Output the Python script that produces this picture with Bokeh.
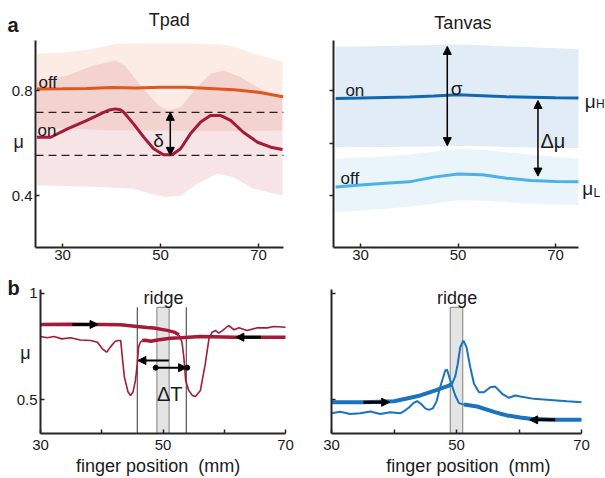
from bokeh.plotting import figure
from bokeh.layouts import row, column
from bokeh.models import Label, Arrow, NormalHead, FixedTicker
from bokeh.embed import file_html
from bokeh.resources import INLINE

# ---------------- data ----------------
# panel a, Tpad
tpad_off_x = [24.8, 30, 35, 40, 45, 50, 55, 60, 65, 70, 75]
tpad_off = [0.806, 0.807, 0.808, 0.811, 0.810, 0.812, 0.812, 0.808, 0.803, 0.793, 0.776]
tpad_on_x = [24.8, 27.6, 31.0, 35.0, 38.4, 39.6, 40.8, 41.8, 42.5, 44.5, 46.6, 48.6, 50.6, 52.4,
             54.1, 56.1, 58.2, 60.2, 62.2, 64.3, 66.9, 69.8, 72.5, 74.9]
tpad_on = [0.622, 0.622, 0.654, 0.686, 0.717, 0.726, 0.730, 0.727, 0.717, 0.673, 0.622, 0.578,
           0.555, 0.555, 0.578, 0.635, 0.680, 0.705, 0.705, 0.686, 0.641, 0.603, 0.584, 0.575]
tpad_offband_x = [24.8, 30, 35, 37.8, 40.9, 45, 51.4, 55, 58.2, 62, 65, 69, 74.9]
tpad_offband_hi = [0.940, 0.945, 0.955, 0.965, 0.978, 0.980, 0.980, 0.980, 0.978, 0.975, 0.968, 0.940, 0.910]
tpad_offband_lo = [0.658, 0.655, 0.652, 0.650, 0.648, 0.648, 0.648, 0.646, 0.645, 0.645, 0.645, 0.646, 0.648]
tpad_onband_top_x = [24.8, 31.0, 36.3, 40.8, 42.7, 46.2, 49.6, 51.6, 54.1, 57.5, 60.2, 62.9, 66.3, 70.4, 74.9]
tpad_onband_top = [0.832, 0.857, 0.895, 0.914, 0.895, 0.813, 0.743, 0.724, 0.737, 0.813, 0.864, 0.876,
                   0.851, 0.806, 0.775]
tpad_onband_bot_x = [24.8, 37.8, 44.5, 47.9, 51.0, 54.1, 57.5, 61.5, 64.9, 69.0, 74.9]
tpad_onband_bot = [0.439, 0.432, 0.426, 0.407, 0.394, 0.400, 0.445, 0.483, 0.470, 0.426, 0.400]
tpad_dash = [0.717, 0.553]

# panel a, Tanvas
tanvas_x = [24.9, 30, 35, 40, 45, 50, 55, 60, 65, 70, 74.7]
tanvas_on = [0.770, 0.771, 0.773, 0.775, 0.779, 0.784, 0.780, 0.776, 0.774, 0.772, 0.771]
tanvas_off = [0.432, 0.440, 0.447, 0.452, 0.470, 0.482, 0.479, 0.466, 0.457, 0.453, 0.452]
tanvas_on_hi = [0.967, 0.968, 0.970, 0.971, 0.973, 0.975, 0.972, 0.968, 0.965, 0.961, 0.957]
tanvas_on_lo = [0.585, 0.584, 0.585, 0.586, 0.587, 0.589, 0.588, 0.585, 0.583, 0.582, 0.581]
tanvas_off_hi = [0.540, 0.545, 0.550, 0.556, 0.567, 0.578, 0.574, 0.565, 0.555, 0.547, 0.540]
tanvas_off_lo = [0.337, 0.343, 0.350, 0.357, 0.370, 0.382, 0.380, 0.375, 0.370, 0.366, 0.363]

# panel b, Tpad
bl_fwd_thick_x = [30.0, 35.0, 39.8, 43.1, 44.2, 47.4, 48.5, 50.7, 51.8, 52.6]
bl_fwd_thick = [0.854, 0.855, 0.854, 0.853, 0.849, 0.840, 0.837, 0.826, 0.818, 0.805]
bl_fwd_thin_x = [52.6, 53.1, 53.4, 53.7, 54.2, 54.8, 55.3, 56.1, 56.9, 57.5, 58.0, 58.6, 59.1, 59.7,
                 60.7, 61.6, 62.4, 63.7, 65.4, 67.0, 68.1, 70.0]
bl_fwd_thin = [0.805, 0.770, 0.700, 0.590, 0.542, 0.519, 0.514, 0.542, 0.668, 0.786, 0.817, 0.825,
               0.813, 0.825, 0.849, 0.829, 0.838, 0.825, 0.838, 0.838, 0.844, 0.841]
bl_bwd_thick_x = [70.0, 61.6, 56.1, 52.9, 51.2, 49.1, 48.0, 47.1, 46.6]
bl_bwd_thick = [0.794, 0.794, 0.797, 0.791, 0.789, 0.781, 0.775, 0.779, 0.778]
bl_bwd_thin_x = [46.6, 46.3, 46.0, 45.8, 45.5, 45.1, 44.7, 44.3, 43.7, 43.3, 43.1, 42.8, 42.2, 41.4,
                 40.8, 40.1, 39.3, 38.2, 36.5, 34.9, 33.5, 32.2, 31.1, 30.0]
bl_bwd_thin = [0.778, 0.770, 0.747, 0.668, 0.590, 0.535, 0.519, 0.535, 0.605, 0.715, 0.778, 0.778,
               0.775, 0.747, 0.723, 0.739, 0.770, 0.778, 0.781, 0.791, 0.786, 0.797, 0.791, 0.797]
bl_edges = [45.8, 53.8]
dT_dots_x = [48.8, 53.95]
dT_dots_y = [0.650, 0.650]

# panel b, Tanvas
br_fwd_thick_x = [30.0, 35.2, 40.0, 42.6, 44.2, 45.3, 46.9, 47.4, 48.8, 49.3]
br_fwd_thick = [0.487, 0.487, 0.492, 0.508, 0.519, 0.530, 0.545, 0.551, 0.566, 0.574]
br_fwd_thin_x = [49.3, 49.8, 50.2, 50.6, 51.1, 51.6, 52.2, 52.8, 53.6, 54.4, 55.4, 56.2, 57.3, 58.4,
                 59.4, 60.2, 62.4, 65.0, 67.7, 70.0]
br_fwd_thin = [0.574, 0.610, 0.668, 0.747, 0.778, 0.747, 0.652, 0.574, 0.534, 0.534, 0.558, 0.561,
               0.527, 0.508, 0.519, 0.514, 0.503, 0.498, 0.492, 0.487]
br_bwd_thick_x = [70.0, 65.6, 61.8, 60.2, 58.1, 57.0, 56.0, 53.3, 51.2]
br_bwd_thick = [0.404, 0.404, 0.409, 0.415, 0.425, 0.433, 0.442, 0.467, 0.476]
br_bwd_thin_x = [51.2, 50.4, 49.8, 49.0, 48.5, 48.2, 47.4, 46.8, 46.2, 45.6, 45.0, 44.3, 43.7, 43.1,
                 42.4, 41.6, 41.0, 39.4, 37.8, 36.2, 34.6, 33.0, 31.4, 30.0]
br_bwd_thin = [0.476, 0.483, 0.519, 0.590, 0.640, 0.637, 0.560, 0.490, 0.458, 0.451, 0.458, 0.480,
               0.492, 0.483, 0.462, 0.445, 0.435, 0.440, 0.432, 0.443, 0.435, 0.432, 0.442, 0.435]

ridge = [49.0, 51.0]
ridge_top = 0.935

# axis extents (data units) of each panel
A1_X = (24.49, 75.1)
A2_X = (24.46, 74.72)
A_Y = (0.202, 0.990)
B_X = (30.0, 70.0)
B_Y = (0.3396, 1.0189)

XLABEL = "finger position\u00a0 (mm)"

# ---------------- style ----------------
FONT = "Liberation Sans"
TXT = "#1a1a1a"
AX = "#262626"
RED = "#a51a37"
ORANGE = "#e0561f"
BLUE_D = "#1268b0"
BLUE_L = "#4ab2e6"
BLUE_B = "#1b73bd"


def mkfig(w, h, xr, yr):
    p = figure(width=w, height=h, x_range=xr, y_range=yr, output_backend="svg",
               toolbar_location=None, min_border=0, min_border_left=0, min_border_right=0,
               min_border_top=0, min_border_bottom=0)
    p.outline_line_color = None
    p.xgrid.visible = False
    p.ygrid.visible = False
    p.background_fill_color = "white"
    p.border_fill_color = "white"
    return p


def style(p, xb, yb, xt, xover, yt, yover, ytin, ytout, xstand, ystand):
    for ax in (p.xaxis[0], p.yaxis[0]):
        ax.axis_line_width = 2
        ax.axis_line_color = AX
        ax.major_tick_line_width = 1.5
        ax.major_tick_line_color = AX
        ax.minor_tick_line_color = None
        ax.major_label_text_font = FONT
        ax.major_label_text_font_size = "15px"
        ax.major_label_text_color = TXT
    xa, ya = p.xaxis[0], p.yaxis[0]
    xa.fixed_location = yb[0]
    xa.bounds = xb
    ya.fixed_location = xb[0]
    ya.bounds = yb
    xa.ticker = FixedTicker(ticks=xt)
    xa.major_label_overrides = xover
    xa.major_tick_in = 4
    xa.major_tick_out = 0
    xa.major_label_standoff = xstand
    ya.ticker = FixedTicker(ticks=yt)
    ya.major_label_overrides = yover
    ya.major_tick_in = ytin
    ya.major_tick_out = ytout
    ya.major_label_standoff = ystand


def lab(p, x, y, text, size, align="left", bold=False):
    p.add_layout(Label(x=x, y=y, text=text, text_font=FONT, text_font_size=f"{size}px",
                       text_align=align, text_baseline="alphabetic", text_color=TXT,
                       text_font_style="bold" if bold else "normal"))


def arrow(p, x0, y0, x1, y1, w=1.5, size=8, both=False):
    head = lambda: NormalHead(size=size, fill_color="black", line_color="black", line_width=1)
    p.add_layout(Arrow(x_start=x0, y_start=y0, x_end=x1, y_end=y1, line_width=w,
                       line_color="black", end=head(), start=head() if both else None))


# ---------------- a: Tpad ----------------
p1 = mkfig(308, 273, (17.347, 80.204), (0.1029, 1.1429))
style(p1, A1_X, A_Y, [30, 50, 70], {}, [0.4, 0.8], {0.4: "0.4", 0.8: "0.8"}, 4, 0, 3, 3)
p1.varea(x=tpad_offband_x, y1=tpad_offband_lo, y2=tpad_offband_hi, fill_color="#e8602c", fill_alpha=0.12)
p1.patch(x=tpad_onband_top_x + tpad_onband_bot_x[::-1], y=tpad_onband_top + tpad_onband_bot[::-1],
         fill_color="#b51d3d", fill_alpha=0.12, line_color=None)
p1.segment(x0=[A1_X[0]] * 2, x1=[A1_X[1]] * 2, y0=tpad_dash, y1=tpad_dash, line_color="#222222",
           line_width=1.2, line_dash="8 5")
p1.line(tpad_off_x, tpad_off, line_color=ORANGE, line_width=3)
p1.line(tpad_on_x, tpad_on, line_color=RED, line_width=3)
arrow(p1, 52.0, tpad_dash[1], 52.0, tpad_dash[0], w=1.5, size=8, both=True)
lab(p1, 18.8, 1.048, "a", 20, bold=True)
lab(p1, 51.8, 1.067, "Tpad", 18, align="center")
lab(p1, 25.1, 0.830, "off", 17)
lab(p1, 24.9, 0.648, "on", 17)
lab(p1, 49.6, 0.610, "δ", 19, align="center")
lab(p1, 20.0, 0.602, "μ", 18)

# ---------------- a: Tanvas ----------------
p2 = mkfig(297, 273, (19.332, 80.255), (0.1029, 1.1429))
style(p2, A2_X, A_Y, [30, 50, 70], {}, [0.4, 0.6, 0.8], {0.4: "", 0.6: "", 0.8: ""}, 0, 4, 3, 3)
p2.varea(x=tanvas_x, y1=tanvas_on_lo, y2=tanvas_on_hi, fill_color="#e2ecf6")
p2.varea(x=tanvas_x, y1=tanvas_off_lo, y2=tanvas_off_hi, fill_color="#eaf4fb")
p2.line(tanvas_x, tanvas_on, line_color=BLUE_D, line_width=3)
p2.line(tanvas_x, tanvas_off, line_color=BLUE_L, line_width=3)
arrow(p2, 47.8, 0.590, 47.8, 0.968, w=1.5, size=8, both=True)
arrow(p2, 66.4, 0.474, 66.4, 0.762, w=1.5, size=8, both=True)
lab(p2, 51.0, 1.059, "Tanvas", 18, align="center")
lab(p2, 26.9, 0.800, "on", 17)
lab(p2, 25.9, 0.465, "off", 17)
lab(p2, 48.5, 0.808, "σ", 19)
lab(p2, 66.9, 0.606, "Δμ", 20)
lab(p2, 76.0, 0.758, "μ", 19)
lab(p2, 78.3, 0.747, "H", 12)
lab(p2, 75.5, 0.427, "μ", 19)
lab(p2, 77.8, 0.411, "L", 12)

# ---------------- b: Tpad ----------------
p3 = mkfig(308, 205, (23.469, 73.755), (0.1274, 1.0943))
style(p3, B_X, B_Y, [30, 40, 50, 60, 70], {40: "", 60: ""}, [0.5, 1.0], {0.5: "0.5", 1.0: "1"}, 4, 0, 6, 3)
p3.quad(left=[ridge[0]], right=[ridge[1]], bottom=[B_Y[0]], top=[ridge_top],
        fill_color="#e4e4e4", line_color="#7f7f7f", line_width=1)
p3.segment(x0=bl_edges, y0=[B_Y[0]] * 2, x1=bl_edges, y1=[ridge_top] * 2, line_color="#333333",
           line_width=1)
p3.line(bl_fwd_thin_x, bl_fwd_thin, line_color=RED, line_width=1.6)
p3.line(bl_bwd_thin_x, bl_bwd_thin, line_color=RED, line_width=1.6)
p3.line(bl_fwd_thick_x, bl_fwd_thick, line_color=RED, line_width=3.5)
p3.line(bl_bwd_thick_x, bl_bwd_thick, line_color=RED, line_width=3.5)
arrow(p3, 35.2, 0.854, 39.4, 0.854, w=3, size=8)
arrow(p3, 66.0, 0.794, 61.9, 0.794, w=3, size=8)
arrow(p3, 50.95, 0.684, 45.9, 0.684, w=2, size=8)
arrow(p3, dT_dots_x[0], dT_dots_y[0], dT_dots_x[1] - 0.1, dT_dots_y[1], w=2, size=8)
p3.scatter(dT_dots_x, dT_dots_y, size=5, color="black")
lab(p3, 24.6, 1.028, "b", 20, bold=True)
lab(p3, 50.1, 0.981, "ridge", 18, align="center")
lab(p3, 51.1, 0.528, "ΔT", 20, align="center")
lab(p3, 26.7, 0.717, "μ", 18)
lab(p3, 49.2, 0.187, XLABEL, 18, align="center")

# ---------------- b: Tanvas ----------------
p4 = mkfig(297, 205, (26.32, 73.84), (0.1274, 1.0943))
style(p4, B_X, B_Y, [30, 40, 50, 60, 70], {40: "", 60: ""}, [0.5, 1.0], {0.5: "", 1.0: ""}, 4, 0, 6, 3)
p4.quad(left=[ridge[0]], right=[ridge[1]], bottom=[B_Y[0]], top=[ridge_top],
        fill_color="#e4e4e4", line_color="#7f7f7f", line_width=1)
p4.line(br_fwd_thin_x, br_fwd_thin, line_color=BLUE_B, line_width=2)
p4.line(br_bwd_thin_x, br_bwd_thin, line_color=BLUE_B, line_width=2)
p4.line(br_fwd_thick_x, br_fwd_thick, line_color=BLUE_B, line_width=4)
p4.line(br_bwd_thick_x, br_bwd_thick, line_color=BLUE_B, line_width=4)
arrow(p4, 35.1, 0.487, 39.3, 0.487, w=3, size=8)
arrow(p4, 65.8, 0.404, 61.7, 0.404, w=3, size=8)
lab(p4, 50.1, 0.981, "ridge", 18, align="center")
lab(p4, 51.9, 0.187, XLABEL, 18, align="center")

layout = column(row(p1, p2), row(p3, p4))
open("out.html", "w").write(file_html(layout, INLINE))
